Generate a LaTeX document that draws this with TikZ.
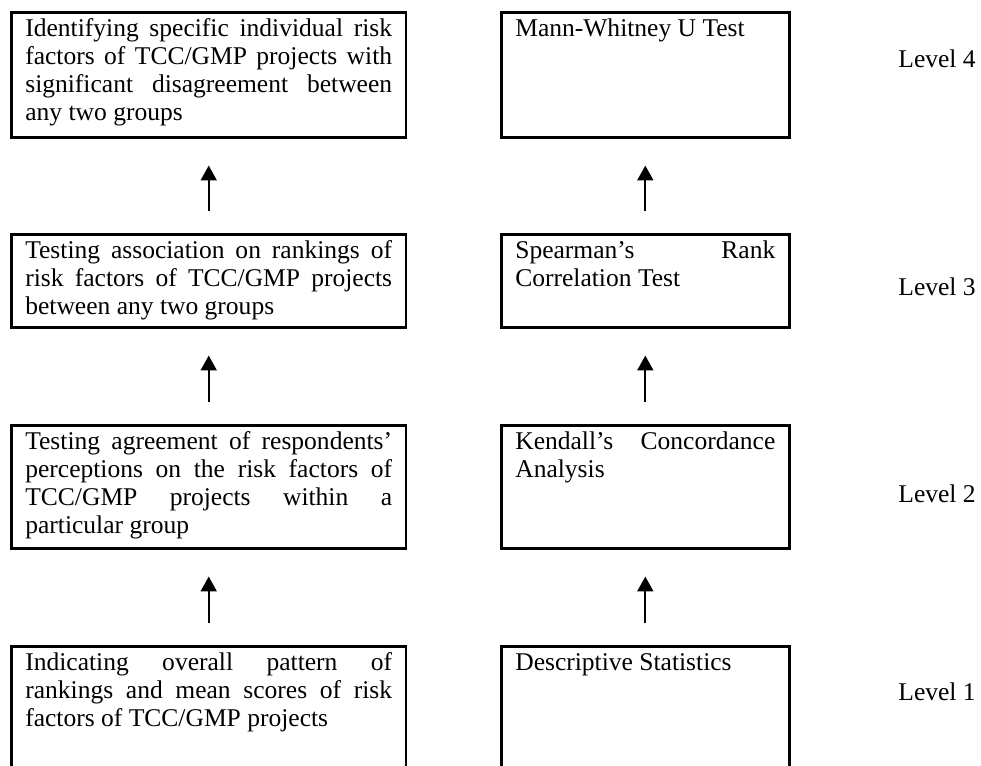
\documentclass[tikz,border=0pt]{standalone}
\usepackage{fontspec}
\setmainfont{Liberation Serif}
\usetikzlibrary{arrows.meta}

\tikzset{
  stagebox/.style={draw, line width=1.2pt, anchor=north west, inner xsep=6.6pt,
    inner ysep=0pt, text height=11.3pt, text depth=#1, align=justify,
    font=\fontsize{12}{13.2}\selectfont},
  goalbox/.style={stagebox=#1, text width=172.4pt},
  testbox/.style={stagebox=#1, text width=122.2pt},
  levelnode/.style={anchor=base west, inner sep=0pt, font=\fontsize{12}{13.2}\selectfont},
  uparrow/.style={line width=1pt, -{Triangle[width=7.5pt,length=7pt]},
    shorten <=10.3pt, shorten >=12.7pt}
}

\begin{document}
\begin{tikzpicture}[x=0.47pt, y=-0.47pt]
  \useasboundingbox (0,0) rectangle (981,765);
  % left column: purpose of each level
  \node [goalbox=47.45pt] (goal4) at (10,11) {Identifying specific individual risk\linebreak factors of TCC/GMP projects with\linebreak significant disagreement between\linebreak any two groups};
  \node [goalbox=32.4pt] (goal3) at (10,233) {Testing association on rankings of\linebreak risk factors of TCC/GMP projects\linebreak between any two groups};
  \node [goalbox=46.5pt] (goal2) at (10,424) {Testing agreement of respondents’\linebreak perceptions on the risk factors of\linebreak TCC/GMP projects within a\linebreak particular group};
  \node [goalbox=46.5pt] (goal1) at (10,645) {Indicating overall pattern of\linebreak rankings and mean scores of risk\linebreak factors of TCC/GMP projects};
  % right column: test used
  \node [testbox=47.45pt] (test4) at (500,11) {Mann-Whitney U Test};
  \node [testbox=32.4pt] (test3) at (500,233) {Spearman’s Rank\linebreak Correlation Test};
  \node [testbox=46.5pt] (test2) at (500,424) {Kendall’s Concordance\linebreak Analysis};
  \node [testbox=46.5pt] (test1) at (500,645) {Descriptive Statistics};
  % levels
  \node [levelnode] (lev4) at (898,67) {Level 4};
  \node [levelnode] (lev3) at (898,295) {Level 3};
  \node [levelnode] (lev2) at (898,502) {Level 2};
  \node [levelnode] (lev1) at (898,700) {Level 1};
  % arrows
  \draw [uparrow] (goal1.north) -- (goal2.south);
  \draw [uparrow] (goal2.north) -- (goal3.south);
  \draw [uparrow] (goal3.north) -- (goal4.south);
  \draw [uparrow] (test1.north) -- (test2.south);
  \draw [uparrow] (test2.north) -- (test3.south);
  \draw [uparrow] (test3.north) -- (test4.south);
\end{tikzpicture}
\end{document}
